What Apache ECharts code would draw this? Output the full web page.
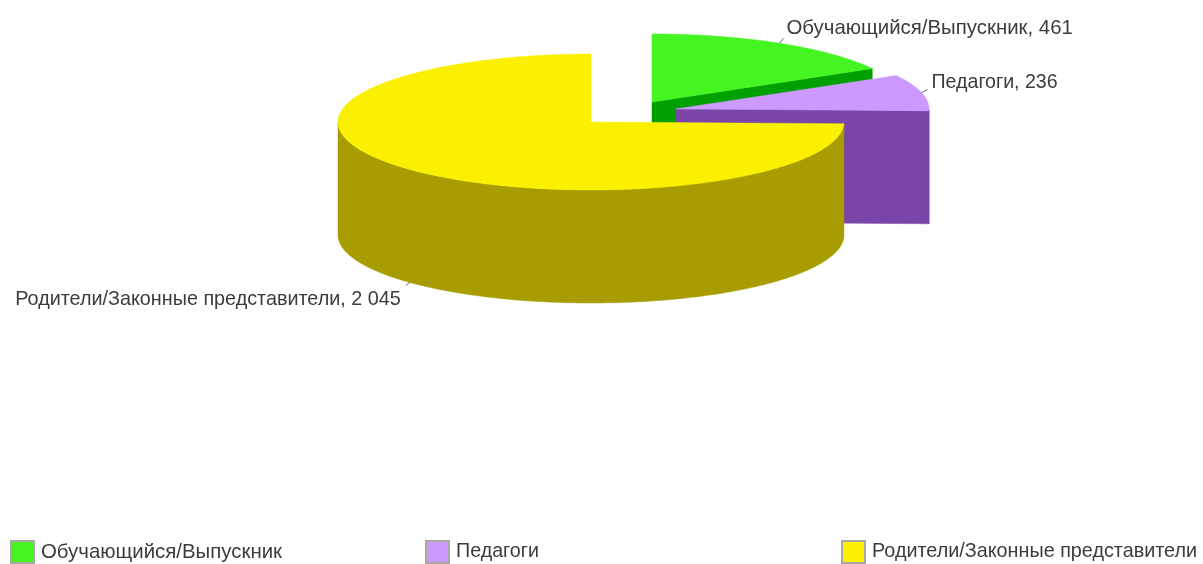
<!DOCTYPE html>
<html><head><meta charset="utf-8">
<style>html,body{margin:0;padding:0;background:#fff}#c{width:1203px;height:564px}</style>
<script src="https://cdn.jsdelivr.net/npm/echarts@6/dist/echarts.min.js"></script></head>
<body><div id="c"></div>
<script>
const categories = ['Обучающийся/Выпускник', 'Педагоги', 'Родители/Законные представители'];
const values = [461, 236, 2045];
const valueLabels = ['461', '236', '2 045'];

const topColors = ['#44F522', '#CC99FF', '#FBF000'];
const sideColors = ['#00A000', '#7A45A8', '#A89D00'];
const centers = [[652, 102], [676, 109], [591, 122]];
const RX = 253, RY = 68, DEPTH = 113;
const labelOffsets = [[7, -15], [10, -10], [-9, 17]];
const labelAligns = ['left', 'left', 'right'];
const labelSizes = [20.4, 19.6, 19.8];
const legendSizes = [20.4, 19.7, 19.8];
const leaderEnds = [[4, -5], [6, -3], [-4, 3]];
const legendLefts = [10, 425, 841];
const total = values.reduce((a, b) => a + b, 0);

function pt(i, deg, drop) {
  const r = deg * Math.PI / 180, c = centers[i];
  return [c[0] + RX * Math.sin(r), c[1] - RY * Math.cos(r) + (drop || 0)];
}
function arc(i, a0, a1, drop) {
  const pts = [], n = Math.max(2, Math.ceil(Math.abs(a1 - a0) * 2));
  for (let k = 0; k <= n; k++) pts.push(pt(i, a0 + (a1 - a0) * k / n, drop));
  return pts;
}
function renderer(i) {
  const before = values.slice(0, i).reduce((a, b) => a + b, 0);
  return function () {
    const a0 = before / total * 360, a1 = (before + values[i]) / total * 360;
    const mid = (a0 + a1) / 2, c = centers[i], ch = [];
    const poly = (points, fill) => ch.push({
      type: 'polygon', shape: { points }, style: { fill, stroke: fill, lineWidth: 0.5 }
    });
    // cut face at the clockwise end of the slice, when it faces the viewer
    if (a1 < 180) {
      const e = pt(i, a1);
      poly([c, e, [e[0], e[1] + DEPTH], [c[0], c[1] + DEPTH]], sideColors[i]);
    }
    // outer wall: only the front half of the rim is visible
    const w0 = Math.max(a0, 90), w1 = Math.min(a1, 270);
    if (w1 > w0) poly(arc(i, w0, w1, 0).concat(arc(i, w1, w0, DEPTH)), sideColors[i]);
    // top face
    poly([c].concat(arc(i, a0, a1, 0)), topColors[i]);
    // leader and label
    const wall = (mid > 90 && mid < 270) ? DEPTH : 0;
    const p = pt(i, mid, wall);
    ch.push({ type: 'line',
      shape: { x1: p[0], y1: p[1], x2: p[0] + leaderEnds[i][0], y2: p[1] + leaderEnds[i][1] },
      style: { stroke: '#666', lineWidth: 1 } });
    ch.push({ type: 'text', style: {
      x: p[0] + labelOffsets[i][0], y: p[1] + labelOffsets[i][1],
      text: categories[i] + ', ' + valueLabels[i],
      fill: '#3c3c3c', font: labelSizes[i] + 'px "Liberation Sans"',
      textAlign: labelAligns[i], textVerticalAlign: 'middle' } });
    return { type: 'group', children: ch };
  };
}
const chart = echarts.init(document.getElementById('c'), null, { renderer: 'canvas' });
chart.setOption({
  animation: false,
  backgroundColor: '#fff',
  legend: categories.map((name, i) => ({
    data: [name], left: legendLefts[i], top: 540, padding: 0, selectedMode: false,
    icon: 'rect', itemWidth: 23, itemHeight: 22,
    itemStyle: { borderColor: '#A8A8A8', borderWidth: 2 },
    textStyle: { fontFamily: 'Liberation Sans', fontSize: legendSizes[i], color: '#3c3c3c', padding: [0, 0, 0, 2] }
  })),
  series: categories.map((name, i) => ({
    type: 'custom', name, coordinateSystem: 'none', silent: true,
    itemStyle: { color: topColors[i] },
    data: [[values[i]]], renderItem: renderer(i)
  }))
});
</script></body></html>
